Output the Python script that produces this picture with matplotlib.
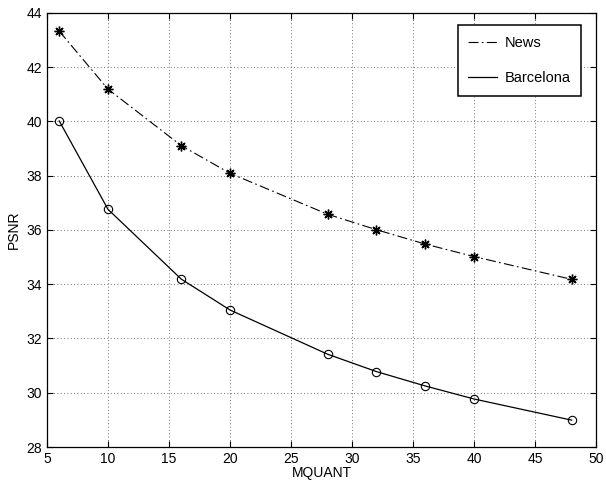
import numpy as np
import matplotlib
matplotlib.use("Agg")
import matplotlib.pyplot as plt

plt.rcParams['font.family'] = ['Liberation Sans', 'DejaVu Sans']

# MQUANT values and PSNR
mquant = [6, 10, 16, 20, 28, 32, 36, 40, 48]
psnr_news = [43.33, 41.19, 39.11, 38.09, 36.58, 36.01, 35.48, 35.02, 34.18]
psnr_barcelona = [40.02, 36.76, 34.19, 33.05, 31.42, 30.78, 30.25, 29.77, 28.99]

fig = plt.figure(figsize=(6.06, 4.91), dpi=100)
ax = fig.add_axes([0.0776, 0.0896, 0.906, 0.884])

ax.plot(mquant, psnr_news, color='black', linewidth=0.8, linestyle=(0, (9, 3, 1.5, 3)),
        marker=(8, 2, 0), markersize=7, markeredgewidth=1.0, label='News')
ax.plot(mquant, psnr_barcelona, color='black', linewidth=0.9, linestyle='-',
        marker='o', markersize=6, markerfacecolor='none', markeredgewidth=0.8,
        label='Barcelona')

ax.set_xlim(5, 50)
ax.set_ylim(28, 44)
ax.set_xticks(np.arange(5, 51, 5))
ax.set_yticks(np.arange(28, 45, 2))
ax.grid(True, color='#444444', linestyle=(0, (1, 3)), linewidth=0.6)
ax.tick_params(direction='in', top=True, right=True, labelsize=10, length=4)
for s in ax.spines.values():
    s.set_linewidth(0.9)

ax.set_xlabel('MQUANT', fontsize=10, labelpad=0)
ax.set_ylabel('PSNR', fontsize=10, labelpad=4)

leg = ax.legend(loc='upper right', bbox_to_anchor=(0.9727, 0.972), borderaxespad=0,
                fontsize=10.5, fancybox=False, framealpha=1, edgecolor='black',
                handlelength=2.0, handletextpad=0.5, borderpad=0.72, labelspacing=1.5)
leg.get_frame().set_linewidth(1.1)
for h in leg.legend_handles:
    h.set_marker('')

fig.savefig('out.png', dpi=100)
